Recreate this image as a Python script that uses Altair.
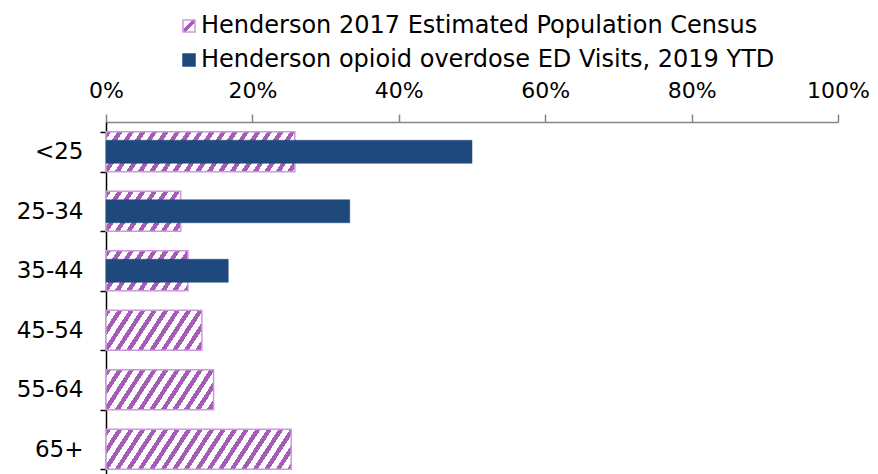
import math
import altair as alt
import pandas as pd

# ---- data ----
ages = ["<25", "25-34", "35-44", "45-54", "55-64", "65+"]
pop_pct = [25.8, 10.2, 11.2, 13.1, 14.7, 25.3]     # Henderson 2017 Estimated Population Census
ed_pct = [50.0, 33.3, 16.7, 0.0, 0.0, 0.0]         # Henderson opioid overdose ED Visits, 2019 YTD
x_ticks = [0, 20, 40, 60, 80, 100]
pop_label = "Henderson 2017 Estimated Population Census"
ed_label = "Henderson opioid overdose ED Visits, 2019 YTD"

# ---- styling ----
FONT = "DejaVu Sans"
FS = 23
X_FS = 22
LEG_FS = 24
PLOT_W = 732
PLOT_H = 357
BAR_H = 40
PURPLE = "#a35db5"
PURPLE_LIGHT = "#cc99dd"
BLUE = "#1f497d"

df = pd.DataFrame({"age": ages, "pop": pop_pct, "ed": ed_pct})


def hatch(w, h, theta_deg=57.0, period=11.5, frac=0.45):
    """Diagonal '/' stripes built as a hard-stop linear gradient (bounding-box units)."""
    cot = 1.0 / math.tan(math.radians(theta_deg))
    b0 = h * cot / w
    c = (1 + b0) / (1 + b0 ** 2)
    length = w + h * cot
    n = length / period
    stops = []
    k = 0
    while k / n < 1:
        a = k / n
        m = min((k + frac) / n, 1.0)
        e = min((k + 1) / n, 1.0)
        stops += [{"offset": a, "color": PURPLE}, {"offset": m, "color": PURPLE}]
        if m < 1:
            stops += [{"offset": m, "color": "#ffffff"}, {"offset": e, "color": "#ffffff"}]
        k += 1
    return {"gradient": "linear", "x1": 0, "y1": 0, "x2": c, "y2": c * b0, "stops": stops}


x_enc = alt.X(
    "value:Q",
    scale=alt.Scale(domain=[0, 100], nice=False, zero=True),
    axis=alt.Axis(
        orient="top", values=x_ticks, labelExpr="datum.value + '%'", title=None,
        grid=False, domainColor="#868686", domainWidth=1.5, tickColor="#868686",
        tickWidth=1.5, tickSize=8, labelPadding=12, labelFont=FONT, labelFontSize=X_FS,
        labelColor="black", labelFlush=False, labelOverlap=False,
    ),
)
y_enc = alt.Y(
    "age:N",
    sort=ages,
    scale=alt.Scale(domain=ages, paddingInner=0.328, paddingOuter=0.164),
    axis=alt.Axis(
        title=None, domainColor="black", domainWidth=1.5, tickColor="black",
        tickWidth=1.5, tickSize=6, tickBand="extent", labelPadding=17,
        labelFont=FONT, labelFontSize=FS, labelColor="black",
    ),
)

base = alt.Chart(df)
layers = []
for age, v in zip(ages, pop_pct):
    w = v / 100.0 * PLOT_W
    layers.append(
        base.transform_filter(alt.datum.age == age)
        .transform_calculate(value="datum.pop")
        .mark_bar(fill=hatch(w, BAR_H), stroke=PURPLE_LIGHT, strokeWidth=1.5)
        .encode(x=x_enc, y=y_enc)
    )

legend_grad = (
    "{gradient: 'linear', x1: 0, y1: 0, x2: 1, y2: 1, stops: ["
    "{offset: 0, color: '#ffffff'}, {offset: 0.38, color: '#ffffff'}, "
    "{offset: 0.38, color: '" + PURPLE + "'}, {offset: 0.62, color: '" + PURPLE + "'}, "
    "{offset: 0.62, color: '#ffffff'}, {offset: 1, color: '#ffffff'}]}"
)

legend = alt.Legend(
    title=None, orient="none", legendX=71, legendY=-108, direction="vertical",
    symbolType="square", symbolSize=144, symbolStrokeWidth=1.5,
    labelFont=FONT, labelFontSize=LEG_FS, labelColor="black", labelLimit=1000,
    rowPadding=10, labelOffset=0, symbolOpacity=1,
)

ed_layer = (
    base.transform_filter(alt.datum.ed > 0)
    .transform_calculate(value="datum.ed", series="'" + ed_label + "'")
    .mark_bar(size=23, strokeWidth=0.5)
    .encode(
        x=x_enc,
        y=y_enc,
        color=alt.Color(
            "series:N",
            scale=alt.Scale(domain=[pop_label, ed_label], range=[alt.ExprRef(legend_grad), BLUE]),
            legend=legend,
        ),
        stroke=alt.Stroke(
            "series:N",
            scale=alt.Scale(domain=[pop_label, ed_label], range=[PURPLE_LIGHT, BLUE]),
            legend=legend,
        ),
    )
)

chart = (
    alt.layer(*layers, ed_layer)
    .properties(
        width=PLOT_W, height=PLOT_H,
        padding={"left": 98, "top": 114, "right": 32, "bottom": 0},
        autosize=alt.AutoSizeParams(type="none"),
    )
    .configure_view(stroke=None)
)

chart.save("out.html", embed_options={"renderer": "svg", "actions": False})
